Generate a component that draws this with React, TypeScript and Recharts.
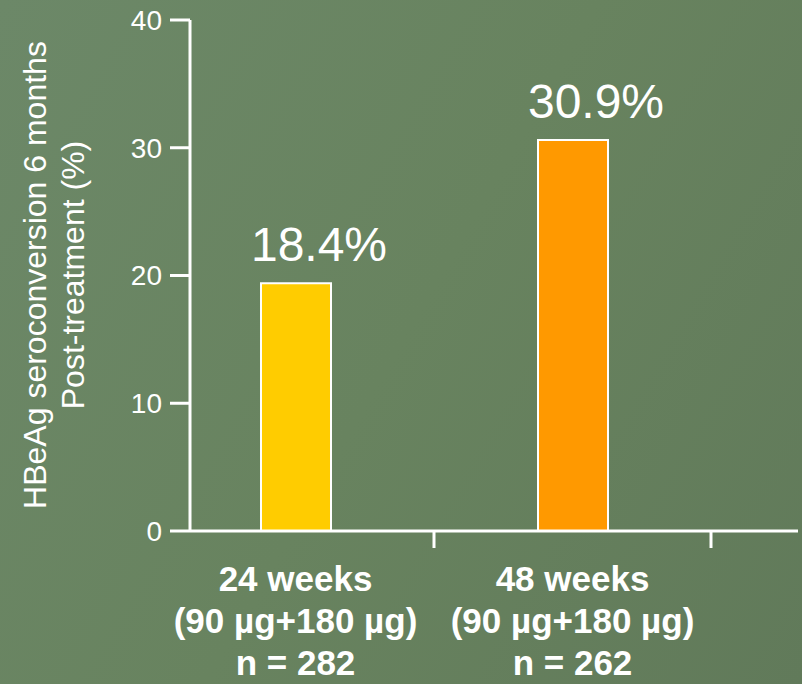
import { BarChart, Bar, XAxis, YAxis, Cell, LabelList } from 'recharts'

// ── Data ─────────────────────────────────────────────────────────────

const CATEGORIES = ['24 weeks', '48 weeks']
const DOSES = ['(90 µg+180 µg)', '(90 µg+180 µg)']
const SAMPLE_SIZES = ['n = 282', 'n = 262']
// bar heights as drawn in the original slide
const BAR_VALUES = [19.4, 30.6]
// percentages printed above the bars
const VALUE_LABELS = ['18.4%', '30.9%']
const Y_TICKS = [0, 10, 20, 30, 40]

const BAR_COLORS = ['#FFCC00', '#FF9900']
const FONT = '"Liberation Sans", Arial, sans-serif'

const data = CATEGORIES.map((name, i) => ({
  name,
  value: BAR_VALUES[i],
  label: VALUE_LABELS[i],
}))

// ── Custom renderers ─────────────────────────────────────────────────

function CategoryTick(props: any) {
  const { x, y, index, payload } = props
  const band = props.bandSize ?? 277
  return (
    <g>
      <line x1={x + band / 2} y1={y - 8} x2={x + band / 2} y2={y + 9} stroke="#fff" strokeWidth={3} />
      <text x={x} y={y} textAnchor="middle" fill="#fff" fontFamily={FONT} fontWeight="bold" fontSize={35}>
        <tspan x={x} dy={52}>{payload.value}</tspan>
        <tspan x={x} dy={42}>{DOSES[index]}</tspan>
        <tspan x={x} dy={42}>{SAMPLE_SIZES[index]}</tspan>
      </text>
    </g>
  )
}

function ValueLabel(props: any) {
  const { x, y, width, index } = props
  return (
    <text
      x={x + width / 2 + 23}
      y={y - 22}
      textAnchor="middle"
      fill="#fff"
      fontFamily={FONT}
      fontSize={48}
    >
      {VALUE_LABELS[index]}
    </text>
  )
}

function YTitle() {
  return (
    <text
      transform="translate(46, 275) rotate(-90)"
      textAnchor="middle"
      fill="#fff"
      fontFamily={FONT}
      fontSize={32}
    >
      <tspan x={0} dy={0}>HBeAg seroconversion 6 months</tspan>
      <tspan x={0} dy={38}>Post-treatment (%)</tspan>
    </text>
  )
}

// ── Component ────────────────────────────────────────────────────────

export default function App() {
  return (
    <div style={{
      position: 'absolute',
      top: 0,
      left: 0,
      width: 802,
      height: 684,
      background: 'linear-gradient(120deg, #6c8868 0%, #68835f 50%, #617a5a 100%)',
    }}>
      <BarChart
        width={802}
        height={684}
        data={data}
        margin={{ top: 20, right: 4, bottom: 123, left: 0 }}
      >
        <XAxis
          dataKey="name"
          height={30}
          axisLine={{ stroke: '#fff', strokeWidth: 3 }}
          tickLine={false}
          tick={<CategoryTick />}
          padding={{ left: -33, right: 87 }}
          interval={0}
        />
        <YAxis
          width={190}
          domain={[0, 40]}
          ticks={Y_TICKS}
          axisLine={{ stroke: '#fff', strokeWidth: 3 }}
          tickLine={{ stroke: '#fff', strokeWidth: 3 }}
          tickSize={20}
          tickMargin={8}
          tick={{ fill: '#fff', fontSize: 28, fontFamily: FONT }}
          label={<YTitle />}
        />
        <Bar dataKey="value" barSize={70} stroke="#fff" strokeWidth={2} isAnimationActive={false}>
          {data.map((d, i) => (
            <Cell key={d.name} fill={BAR_COLORS[i]} />
          ))}
          <LabelList dataKey="label" content={<ValueLabel />} />
        </Bar>
      </BarChart>
    </div>
  )
}
